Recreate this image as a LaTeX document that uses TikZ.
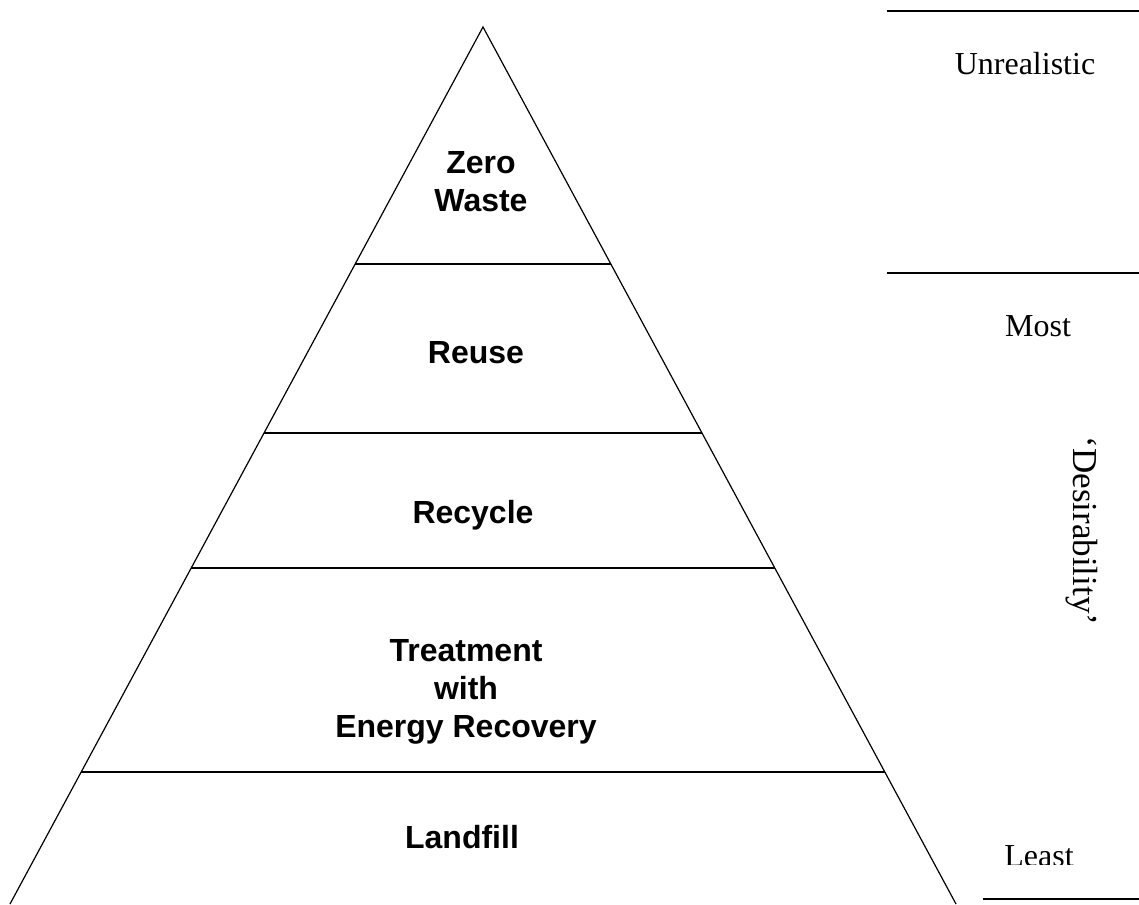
\documentclass[tikz,border=0pt]{standalone}
\usepackage{fontspec}
\setmainfont{Liberation Serif}
\newfontfamily\tierfont{Liberation Sans}
\usetikzlibrary{calc}

\begin{document}
\begin{tikzpicture}[x=1pt, y=-1pt,
  tier/.style={font=\tierfont\bfseries\fontsize{32}{38}\selectfont, align=center, inner sep=0pt},
  side/.style={font=\fontsize{32}{38}\selectfont, inner sep=0pt},
  edge/.style={line width=1.2pt},
  rule/.style={line width=2pt}
]
\useasboundingbox (0,0) rectangle (1139,904);

\coordinate (apex) at (483,27);
\coordinate (bl) at (10,904);
\coordinate (br) at (956,904);
\draw[edge] (bl) -- (apex) -- (br);

\foreach \t in {0.2702, 0.4629, 0.6169, 0.8495}
  \draw[edge] ($(apex)!\t!(bl)$) -- ($(apex)!\t!(br)$);

\node[tier] (zero) at (481,182) {Zero\\Waste};
\node[tier, anchor=base] (reuse) at (476,363) {Reuse};
\node[tier, anchor=base] (recycle) at (473,523) {Recycle};
\node[tier] (treat) at (466,692) {Treatment\\with\\Energy Recovery};
\node[tier, anchor=base] (landfill) at (462,848) {Landfill};

\draw[rule] (887,11) -- (1139,11);
\draw[rule] (887,273) -- (1139,273);
\draw[rule] (983,899) -- (1139,899);

\node[side, anchor=base] (unreal) at (1025,75) {Unrealistic};
\node[side, anchor=base] (most) at (1038,336) {Most};
\begin{scope}
  \clip (980,800) rectangle (1139,864);
  \node[side, anchor=base] (least) at (1039,866) {Least};
\end{scope}
\node[side, font=\fontsize{35}{40}\selectfont, rotate=-90] (desire) at (1082,531) {`Desirability'};
\end{tikzpicture}
\end{document}
